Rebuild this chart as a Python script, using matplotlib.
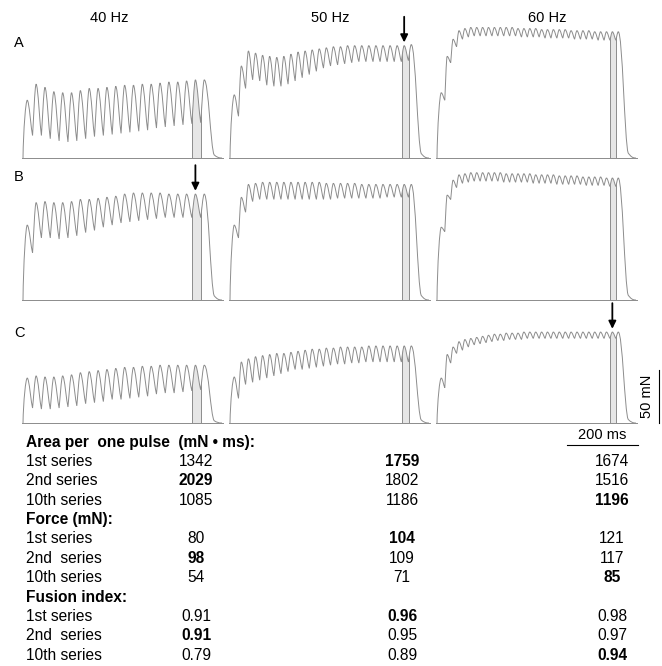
import matplotlib
matplotlib.use("Agg")
import matplotlib.pyplot as plt
from matplotlib.path import Path
from matplotlib.patches import PathPatch, Rectangle

plt.rcParams["font.family"] = ["Liberation Sans", "DejaVu Sans"]

# stimulation frequencies and labels
freqs = [40, 50, 60]
col_titles = ["40 Hz", "50 Hz", "60 Hz"]
row_labels = ["A", "B", "C"]

# peak and trough force of every pulse in the train (mN)
# row A = 1st series
A40_peaks = [54, 69, 66, 62, 61, 61, 63, 65, 65, 66, 67, 68, 68, 69, 69, 70, 71, 71, 72, 73, 73]
A40_troughs = [21, 21, 18, 16, 15, 16, 18, 20, 21, 22, 23, 24, 25, 26, 28, 29, 30, 31, 32, 33]
A50_peaks = [59, 86, 100, 98, 96, 95, 94, 95, 97, 99, 100, 101, 102, 103, 104, 104, 105, 105,
             105, 105, 105, 105, 105, 105, 105, 106]
A50_troughs = [39, 65, 73, 72, 68, 67, 67, 69, 72, 75, 78, 81, 84, 86, 87, 88, 89, 90, 90, 90,
               90, 90, 90, 90, 91]
A60_peaks = [61, 95, 111, 119, 121, 122, 122, 122, 122, 122, 122, 122, 122, 121, 121, 121, 121,
             120, 120, 120, 120, 120, 119, 119, 119, 119, 118, 118, 118, 118, 118]
A60_troughs = [54, 89, 104, 111, 113, 114, 114, 114, 114, 114, 114, 114, 114, 113, 113, 113, 113,
               112, 112, 112, 112, 112, 111, 111, 111, 111, 110, 110, 110, 110]
# row B = 2nd series
B40_peaks = [70, 91, 92, 91, 91, 92, 94, 94, 95, 96, 97, 99, 100, 100, 100, 100, 99, 99, 99, 99, 99]
B40_troughs = [44, 58, 58, 57, 58, 60, 63, 65, 68, 70, 72, 73, 74, 75, 76, 77, 77, 77, 77, 77]
B50_peaks = [70, 96, 108, 109, 110, 110, 110, 110, 110, 110, 110, 110, 110, 109, 109, 109, 109,
             109, 108, 108, 108, 108, 108, 108, 108, 108]
B50_troughs = [58, 82, 92, 94, 94, 94, 94, 94, 94, 94, 94, 94, 94, 94, 95, 95, 95, 95, 95, 95,
               95, 96, 96, 96, 96]
B60_peaks = [68, 98, 112, 117, 118, 119, 119, 119, 119, 119, 119, 118, 118, 118, 118, 118, 117,
             117, 117, 117, 116, 116, 116, 116, 115, 115, 115, 115, 114, 114, 114]
B60_troughs = [64, 94, 105, 109, 110, 111, 111, 111, 111, 111, 110, 110, 110, 110, 110, 109, 109,
               109, 109, 108, 108, 108, 108, 108, 107, 107, 107, 107, 106, 106]
# row C = 10th series
C40_peaks = [42, 44, 43, 43, 44, 45, 47, 48, 49, 50, 51, 52, 52, 53, 53, 54, 54, 54, 54, 54, 54]
C40_troughs = [14, 13, 13, 14, 15, 16, 18, 19, 20, 22, 22, 23, 24, 25, 27, 28, 28, 29, 30, 31]
C50_peaks = [43, 57, 60, 62, 63, 64, 65, 65, 66, 67, 68, 69, 69, 70, 70, 71, 71, 71, 71, 72, 72,
             72, 72, 72, 72, 72]
C50_troughs = [23, 36, 38, 40, 42, 44, 46, 48, 50, 50, 51, 52, 53, 54, 55, 55, 56, 56, 57, 57,
               57, 57, 57, 57, 57]
C60_peaks = [42, 64, 71, 76, 78, 79, 80, 81, 82, 83, 83, 84, 84, 84, 85, 85, 85, 85, 85, 85, 85,
             85, 85, 85, 85, 85, 85, 85, 85, 85, 85]
C60_troughs = [33, 56, 65, 68, 71, 73, 74, 75, 76, 77, 77, 78, 78, 78, 79, 79, 79, 79, 79, 79,
               79, 79, 79, 79, 79, 79, 79, 79, 79, 79]

# column with the arrow (largest area per pulse) for each row
arrow_col = [1, 0, 2]

# table below the traces
series_names = ["1st series", "2nd series", "10th series"]
series_names2 = ["1st series", "2nd  series", "10th series"]
area_1st = [1342, 1759, 1674]
area_2nd = [2029, 1802, 1516]
area_10th = [1085, 1186, 1196]
force_1st = [80, 104, 121]
force_2nd = [98, 109, 117]
force_10th = [54, 71, 85]
fusion_1st = [0.91, 0.96, 0.98]
fusion_2nd = [0.91, 0.95, 0.97]
fusion_10th = [0.79, 0.89, 0.94]

traces = {
    ("A", 40): (A40_peaks, A40_troughs), ("A", 50): (A50_peaks, A50_troughs), ("A", 60): (A60_peaks, A60_troughs),
    ("B", 40): (B40_peaks, B40_troughs), ("B", 50): (B50_peaks, B50_troughs), ("B", 60): (B60_peaks, B60_troughs),
    ("C", 40): (C40_peaks, C40_troughs), ("C", 50): (C50_peaks, C50_troughs), ("C", 60): (C60_peaks, C60_troughs),
}

# -------- layout (pixels) --------
W, H = 662, 666
PX_MS = 0.354
PX_MN = 1.07
T0, T1 = -10, 600
Y0, Y1 = -40, 140
DELAY = 12  # ms from stimulus to peak
rise_x = [23, 230, 437]
base_y = [158, 300, 423]
GRAY = "#8c8c8c"
LW = 0.7

fig = plt.figure(figsize=(W / 100, H / 100), dpi=100)


def ftext(x, y, s, **kw):
    fig.text(x / W, 1 - y / H, s, **kw)


def trace_path(peaks, troughs, freq):
    period = 1000.0 / freq
    knots = []
    for k, p in enumerate(peaks):
        tp = DELAY + k * period
        knots.append((tp, p, "peak"))
        if k < len(troughs):
            knots.append((tp + 0.6 * period, troughs[k], "trough"))
    verts = [(0, 0)]
    codes = [Path.MOVETO]
    x0, y0 = 0, 0
    for i, (x1, y1, kind) in enumerate(knots):
        dx = x1 - x0
        if i == 0:
            c1 = (x0 + 0.1 * dx, y0 + 0.5 * (y1 - y0))
            c2 = (x1 - 0.35 * dx, y1)
        elif kind == "peak":
            c1 = (x0 + 0.2 * dx, y0 + 0.2 * (y1 - y0))
            c2 = (x1 - 0.35 * dx, y1)
        else:
            c1 = (x0 + 0.35 * dx, y0)
            c2 = (x1 - 0.25 * dx, y1 + 0.15 * (y0 - y1))
        verts += [c1, c2, (x1, y1)]
        codes += [Path.CURVE4] * 3
        x0, y0 = x1, y1
    # relaxation after the last pulse
    verts += [(x0 + 12, y0), (x0 + 18, 0.12 * y0), (x0 + 28, 0.04 * y0),
              (x0 + 36, 0.01 * y0), (x0 + 40, 0), (x0 + 50, 0)]
    codes += [Path.CURVE4] * 6
    last_peak = DELAY + (len(peaks) - 1) * period
    return verts, codes, period, last_peak


for r, row in enumerate(row_labels):
    for c, f in enumerate(freqs):
        left = rise_x[c] + T0 * PX_MS
        bottom = base_y[r] - Y0 * PX_MN
        ax = fig.add_axes([left / W, 1 - bottom / H, (T1 - T0) * PX_MS / W, (Y1 - Y0) * PX_MN / H])
        ax.set_xlim(T0, T1)
        ax.set_ylim(Y0, Y1)
        ax.axis("off")

        peaks, troughs = traces[(row, f)]
        verts, codes, period, last_peak = trace_path(peaks, troughs, f)

        # area under the curve, used to clip the shaded pulse
        area = PathPatch(Path(verts + [(0, 0), (0, 0)], codes + [Path.LINETO, Path.CLOSEPOLY]),
                         facecolor="none", edgecolor="none")
        ax.add_patch(area)
        t_band = last_peak - period - 0.35 * period
        band = Rectangle((t_band, 0), period, 200, facecolor="#e6e6e6", edgecolor=GRAY, lw=LW)
        ax.add_patch(band)
        band.set_clip_path(area)

        ax.plot([-2, 565], [0, 0], color=GRAY, lw=LW)
        ax.add_patch(PathPatch(Path(verts, codes), facecolor="none", edgecolor=GRAY, lw=LW))

        if arrow_col[r] == c:
            tp = last_peak - period
            top = peaks[-2]
            ax.annotate("", xy=(tp, top + 3), xytext=(tp, top + 27),
                        arrowprops=dict(arrowstyle="-|>,head_length=0.45,head_width=0.22",
                                        color="black", lw=1.3, shrinkA=0, shrinkB=0),
                        annotation_clip=False)

        # scale bars next to the last panel
        if r == 2 and c == 2:
            ax.plot([626, 626], [0, 50], color="black", lw=0.8, clip_on=False)
            ax.text(593, 25, "50 mN", rotation=90, ha="center", va="center", fontsize=10.5)
            ax.plot([367, 567], [-21, -21], color="black", lw=0.8, clip_on=False)
            ax.text(467, -11, "200 ms", ha="center", va="center", fontsize=10.5)

# column titles and row letters
for c, title in enumerate(col_titles):
    ftext([109, 330, 547][c], 18, title, ha="center", va="center", fontsize=10.5)
for r, lab in enumerate(row_labels):
    ftext(14, [43, 177, 333][r], lab, ha="left", va="center", fontsize=10.5)

# -------- table --------
row_y = 442
step = 19.4
val_x = [196, 402, 612]
sections = [
    ("Area per  one pulse  (mN \u2022 ms):", series_names, [area_1st, area_2nd, area_10th], "{:d}"),
    ("Force (mN):", series_names2, [force_1st, force_2nd, force_10th], "{:d}"),
    ("Fusion index:", series_names2, [fusion_1st, fusion_2nd, fusion_10th], "{:.2f}"),
]
y = row_y
for header, names, rows, fmt in sections:
    ftext(26, y, header, ha="left", va="center", fontsize=11.2, fontweight="bold")
    y += step
    for i, (name, vals) in enumerate(zip(names, rows)):
        ftext(26, y, name, ha="left", va="center", fontsize=11.2)
        for c, v in enumerate(vals):
            ftext(val_x[c], y, fmt.format(v), ha="center", va="center", fontsize=11.2,
                  fontweight="bold" if arrow_col[i] == c else "normal")
        y += step

fig.savefig("out.png", dpi=100, facecolor="white")
